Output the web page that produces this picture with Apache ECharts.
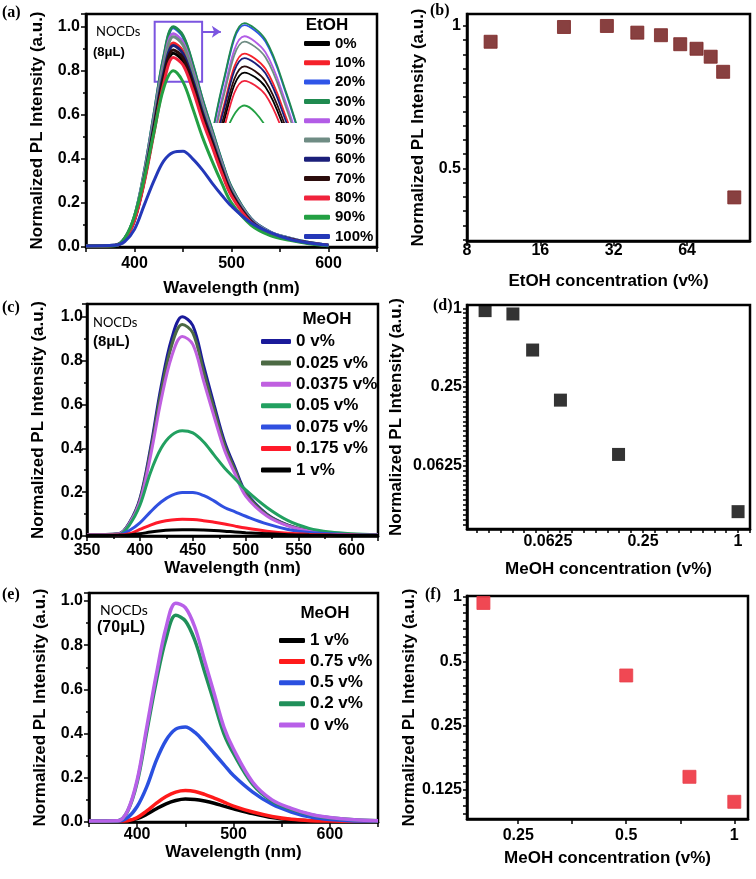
<!DOCTYPE html>
<html><head><meta charset="utf-8">
<script src="https://cdn.jsdelivr.net/npm/echarts@6/dist/echarts.min.js"></script>
<style>html,body{margin:0;padding:0;background:#fff}#c{width:756px;height:879px}</style>
</head><body><div id="c"></div>
<script>
// ---------- data ----------
// (a) EtOH series, 8 uL
const wlA = [350, 380, 390, 400, 410, 420, 430, 440, 450, 460, 470, 480, 490, 500, 520, 540, 560, 580, 600];
const aNames = ['0%','10%','20%','30%','40%','50%','60%','70%','80%','90%','100%'];
const a0   = [0.004, 0.007, 0.035, 0.123, 0.299, 0.528, 0.757, 0.880, 0.845, 0.730, 0.590, 0.466, 0.343, 0.238, 0.114, 0.060, 0.035, 0.018, 0.007];
const a10  = [0.005, 0.007, 0.037, 0.130, 0.315, 0.556, 0.796, 0.926, 0.889, 0.769, 0.620, 0.491, 0.361, 0.250, 0.120, 0.063, 0.037, 0.019, 0.007];
const a20  = [0.005, 0.008, 0.040, 0.139, 0.338, 0.597, 0.856, 0.995, 0.955, 0.826, 0.667, 0.527, 0.388, 0.269, 0.129, 0.068, 0.040, 0.020, 0.008];
const a30  = [0.005, 0.008, 0.040, 0.140, 0.340, 0.600, 0.860, 1.000, 0.960, 0.830, 0.670, 0.530, 0.390, 0.270, 0.130, 0.068, 0.040, 0.020, 0.008];
const a40  = [0.005, 0.008, 0.039, 0.136, 0.329, 0.581, 0.832, 0.968, 0.929, 0.803, 0.649, 0.513, 0.378, 0.261, 0.126, 0.066, 0.039, 0.019, 0.008];
const a50  = [0.005, 0.008, 0.038, 0.134, 0.325, 0.573, 0.821, 0.955, 0.917, 0.793, 0.640, 0.506, 0.372, 0.258, 0.124, 0.065, 0.038, 0.019, 0.008];
const a60  = [0.005, 0.007, 0.037, 0.128, 0.311, 0.549, 0.787, 0.915, 0.878, 0.759, 0.613, 0.485, 0.357, 0.247, 0.119, 0.062, 0.037, 0.018, 0.007];
const a70  = [0.004, 0.007, 0.036, 0.125, 0.304, 0.537, 0.770, 0.895, 0.859, 0.743, 0.600, 0.474, 0.349, 0.242, 0.116, 0.061, 0.036, 0.018, 0.007];
const a80  = [0.004, 0.007, 0.034, 0.120, 0.292, 0.516, 0.740, 0.860, 0.826, 0.714, 0.576, 0.456, 0.335, 0.232, 0.112, 0.058, 0.034, 0.017, 0.007];
const a90  = [0.004, 0.006, 0.040, 0.140, 0.310, 0.520, 0.720, 0.800, 0.750, 0.630, 0.500, 0.390, 0.290, 0.200, 0.100, 0.052, 0.030, 0.015, 0.006];
const a100 = [0.005, 0.008, 0.025, 0.080, 0.190, 0.300, 0.390, 0.430, 0.435, 0.400, 0.350, 0.290, 0.235, 0.185, 0.110, 0.065, 0.035, 0.018, 0.008];

// (b) EtOH concentration vs intensity
const bConc = [10, 20, 30, 40, 50, 60, 70, 80, 90, 100];
const bInt  = [0.926, 0.995, 1.0, 0.968, 0.956, 0.915, 0.895, 0.861, 0.80, 0.434];
const bXLabels = [8, 16, 32, 64];
const bYLabels = [0.5, 1];

// (c) MeOH series, 8 uL
const wlC = [350, 380, 390, 400, 410, 420, 430, 440, 450, 460, 470, 480, 490, 500, 520, 540, 560, 580, 600, 625];
const cNames = ['0 v%','0.025 v%','0.0375 v%','0.05 v%','0.075 v%','0.175 v%','1 v%'];
const c0    = [0.005, 0.010, 0.060, 0.170, 0.400, 0.680, 0.900, 1.000, 0.960, 0.780, 0.600, 0.430, 0.310, 0.200, 0.100, 0.050, 0.025, 0.012, 0.007, 0.004];
const c025  = [0.005, 0.010, 0.058, 0.164, 0.386, 0.656, 0.869, 0.965, 0.926, 0.753, 0.579, 0.415, 0.299, 0.193, 0.097, 0.048, 0.024, 0.012, 0.007, 0.004];
const c0375 = [0.005, 0.009, 0.055, 0.155, 0.364, 0.619, 0.819, 0.910, 0.874, 0.710, 0.546, 0.391, 0.282, 0.182, 0.091, 0.046, 0.023, 0.011, 0.006, 0.004];
const c05   = [0.003, 0.006, 0.050, 0.140, 0.290, 0.400, 0.460, 0.480, 0.470, 0.430, 0.370, 0.310, 0.260, 0.210, 0.130, 0.070, 0.035, 0.018, 0.010, 0.005];
const c075  = [0.003, 0.005, 0.025, 0.060, 0.110, 0.155, 0.185, 0.198, 0.198, 0.185, 0.160, 0.130, 0.110, 0.090, 0.055, 0.030, 0.016, 0.010, 0.006, 0.004];
const c0175 = [0.003, 0.004, 0.010, 0.030, 0.050, 0.065, 0.073, 0.076, 0.075, 0.070, 0.063, 0.055, 0.045, 0.036, 0.022, 0.012, 0.007, 0.005, 0.004, 0.003];
const c1    = [0.002, 0.003, 0.005, 0.010, 0.018, 0.024, 0.027, 0.028, 0.028, 0.027, 0.025, 0.022, 0.018, 0.015, 0.010, 0.006, 0.004, 0.003, 0.002, 0.002];

// (d) MeOH concentration vs intensity (8 uL)
const dConc = [0.025, 0.0375, 0.05, 0.075, 0.175, 1];
const dInt  = [0.96, 0.905, 0.479, 0.198, 0.076, 0.0277];
const dXLabels = [0.0625, 0.25, 1];
const dYLabels = [0.0625, 0.25, 1];

// (e) MeOH series, 70 uL
const wlE = [350, 380, 390, 400, 410, 420, 430, 440, 450, 460, 470, 480, 490, 500, 520, 540, 560, 580, 600, 625, 650];
const eNames = ['1 v%','0.75 v%','0.5 v%','0.2 v%','0 v%'];
const e1   = [0.003, 0.003, 0.005, 0.015, 0.035, 0.060, 0.082, 0.097, 0.104, 0.102, 0.095, 0.085, 0.072, 0.060, 0.038, 0.020, 0.010, 0.005, 0.003, 0.003, 0.003];
const e075 = [0.003, 0.004, 0.006, 0.020, 0.050, 0.085, 0.115, 0.135, 0.142, 0.138, 0.125, 0.108, 0.090, 0.072, 0.045, 0.025, 0.012, 0.006, 0.004, 0.003, 0.003];
const e05  = [0.004, 0.005, 0.020, 0.070, 0.160, 0.280, 0.370, 0.420, 0.430, 0.405, 0.360, 0.310, 0.260, 0.210, 0.135, 0.080, 0.045, 0.022, 0.011, 0.005, 0.004];
const e02  = [0.005, 0.006, 0.048, 0.180, 0.410, 0.640, 0.830, 0.935, 0.910, 0.820, 0.680, 0.540, 0.400, 0.310, 0.170, 0.095, 0.058, 0.033, 0.019, 0.010, 0.006];
const e0   = [0.005, 0.006, 0.050, 0.190, 0.430, 0.670, 0.880, 0.990, 0.970, 0.880, 0.730, 0.580, 0.430, 0.330, 0.180, 0.100, 0.062, 0.035, 0.020, 0.010, 0.006];

// (f) MeOH concentration vs intensity (70 uL)
const fConc = [0.2, 0.5, 0.75, 1];
const fInt  = [0.937, 0.429, 0.144, 0.11];
const fXLabels = [0.25, 0.5, 1];
const fYLabels = [0.125, 0.25, 0.5, 1];

// ---------- styling ----------
const FONT = '"Liberation Sans", Arial, sans-serif';
const SERIF = '"Liberation Serif", "Times New Roman", serif';
const aColors = ['#000000','#f5212a','#2f55e8','#1f8a50','#b25ce6','#6f8c84','#1b1f7a','#2b0c0c','#f0233c','#23a043','#2438b8'];
const cColors = ['#1a1a9a','#4c6a44','#c060e0','#22a060','#3050e0','#ff1a2a','#000000'];
const eColors = ['#000000','#ff1a1a','#2a50e0','#20905a','#b860e8'];
const PURPLE = '#7b55e0';

function pairs(xs, ys) { return xs.map((x, i) => [x, ys[i]]); }
// tick positions (in log2 units) for the tick-only helper axes
function log2Ticks(lo, hi, perOctave) {
  const out = [];
  for (let k = Math.ceil(Math.log2(lo) * perOctave - 1e-9); k <= Math.floor(Math.log2(hi) * perOctave + 1e-9); k++) out.push(k / perOctave);
  return out;
}
const fmtLog = v => String(parseFloat(Number(v).toPrecision(6)));

const tickStyle = {color: '#000', width: 1.5};
function axis(o) {
  const base = {
    nameLocation: 'middle',
    nameTextStyle: {color: '#000', fontFamily: FONT, fontWeight: 'bold', fontSize: 17},
    axisLine: {show: true, onZero: false, lineStyle: {color: '#000', width: 2.5}},
    axisTick: {show: true, length: 5, lineStyle: tickStyle},
    axisLabel: {color: '#000', fontFamily: FONT, fontWeight: 'bold', fontSize: 16},
    splitLine: {show: false}
  };
  const r = Object.assign({}, base, o);
  ['axisLine','axisTick','axisLabel','nameTextStyle'].forEach(k => { if (o[k]) r[k] = Object.assign({}, base[k], o[k]); });
  return r;
}
// helper axis drawing only tick marks, spanning the same range as a log2 axis
function tickAxis(gi, lo, hi, ticks, position, len) {
  return {gridIndex: gi, type: 'value', position, offset: 0, min: Math.log2(lo), max: Math.log2(hi),
    axisLine: {show: false, onZero: false}, splitLine: {show: false}, axisLabel: {show: false},
    axisTick: {show: true, length: len, customValues: ticks, lineStyle: tickStyle}};
}
const minor = {show: true, splitNumber: 2, length: 3, lineStyle: tickStyle};

function gridBox(l, t, w, h) { return {left: l, top: t, width: w, height: h, show: true, borderColor: '#000', borderWidth: 2.5, containLabel: false}; }

const grids = [
  gridBox(86, 14, 291, 233),   // a
  gridBox(467, 14, 283, 227),  // b
  gridBox(87, 304, 291, 232),  // c
  gridBox(467, 305, 283, 224), // d
  gridBox(89, 593, 289, 229),  // e
  gridBox(467, 596, 281, 223), // f
  {left: 213, top: 21, width: 86, height: 101, show: false} // inset
];

const bXr = [8, 116], bYr = [0.351, 1.06];
const dXr = [0.0192, 1.19], dYr = [0.0204, 1.06];
const fXr = [0.18, 1.092], fYr = [0.0914, 1.01];

const xAxes = [
  axis({gridIndex: 0, type: 'value', min: 350, max: 650, interval: 50, name: 'Wavelength (nm)', nameGap: 33,
        axisLabel: {margin: 9, formatter: v => (v % 100 === 0 ? String(v) : '')}}),
  axis({gridIndex: 1, type: 'log', logBase: 2, min: bXr[0], max: bXr[1], name: 'EtOH concentration (v%)', nameGap: 32,
        axisLabel: {margin: 2, customValues: bXLabels, formatter: fmtLog}, axisTick: {show: false}}),
  axis({gridIndex: 2, type: 'value', min: 350, max: 625, interval: 50, name: 'Wavelength (nm)', nameGap: 24,
        axisLabel: {margin: 7, showMaxLabel: false}, minorTick: minor}),
  axis({gridIndex: 3, type: 'log', logBase: 2, min: dXr[0], max: dXr[1], name: 'MeOH concentration (v%)', nameGap: 32,
        axisLabel: {margin: 5, customValues: dXLabels, formatter: fmtLog}, axisTick: {show: false}}),
  axis({gridIndex: 4, type: 'value', min: 350, max: 650, interval: 50, name: 'Wavelength (nm)', nameGap: 22,
        axisLabel: {margin: 5, formatter: v => (v % 100 === 0 ? String(v) : '')}}),
  axis({gridIndex: 5, type: 'log', logBase: 2, min: fXr[0], max: fXr[1], name: 'MeOH concentration (v%)', nameGap: 31,
        axisLabel: {margin: 9, customValues: fXLabels, formatter: fmtLog}, axisTick: {show: false}}),
  {gridIndex: 6, type: 'value', min: 425, max: 466, show: false},
  // tick-only helpers (indices 7..9)
  tickAxis(1, bXr[0], bXr[1], bXLabels.map(Math.log2), 'bottom', 5),
  tickAxis(3, dXr[0], dXr[1], log2Ticks(dXr[0], dXr[1], 4), 'bottom', 4),
  tickAxis(5, fXr[0], fXr[1], log2Ticks(fXr[0], fXr[1], 2), 'bottom', 5)
];

const yName = 'Normalized PL Intensity (a.u.)';
const yAxes = [
  axis({gridIndex: 0, type: 'value', min: 0, max: 1.058, interval: 0.2, name: yName, nameGap: 40,
        axisLabel: {margin: 6, showMaxLabel: false, formatter: v => v.toFixed(1)}, minorTick: minor}),
  axis({gridIndex: 1, type: 'log', logBase: 2, min: bYr[0], max: bYr[1], name: yName, nameGap: 40,
        axisLabel: {margin: 6, customValues: bYLabels, formatter: fmtLog}, axisTick: {show: false}}),
  axis({gridIndex: 2, type: 'value', min: 0, max: 1.058, interval: 0.2, name: yName, nameGap: 40,
        axisLabel: {margin: 4, showMaxLabel: false, formatter: v => v.toFixed(1)}, minorTick: minor}),
  axis({gridIndex: 3, type: 'log', logBase: 2, min: dYr[0], max: dYr[1], name: yName, nameGap: 62,
        axisLabel: {margin: 5, customValues: dYLabels, formatter: fmtLog}, axisTick: {show: false}}),
  axis({gridIndex: 4, type: 'value', min: 0, max: 1.036, interval: 0.2, name: yName, nameGap: 40,
        axisLabel: {margin: 6, showMaxLabel: false, formatter: v => v.toFixed(1)}, minorTick: minor}),
  axis({gridIndex: 5, type: 'log', logBase: 2, min: fYr[0], max: fYr[1], name: yName, nameGap: 48,
        axisLabel: {margin: 5, customValues: fYLabels, formatter: fmtLog}, axisTick: {show: false}}),
  {gridIndex: 6, type: 'value', min: 0.76, max: 1.005, show: false},
  tickAxis(1, bYr[0], bYr[1], log2Ticks(bYr[0], bYr[1], 10), 'left', 4),
  tickAxis(3, dYr[0], dYr[1], log2Ticks(dYr[0], dYr[1], 8), 'left', 4),
  tickAxis(5, fYr[0], fYr[1], log2Ticks(fYr[0], fYr[1], 8), 'left', 4)
];

function line(name, xs, ys, color, idx, width, z) {
  return {type: 'line', name, data: pairs(xs, ys), xAxisIndex: idx, yAxisIndex: idx,
    showSymbol: false, symbol: 'none', smooth: 0.35, clip: true, z: z || 2,
    lineStyle: {color, width}, itemStyle: {color}, emphasis: {disabled: true}};
}

const aData = [a0, a10, a20, a30, a40, a50, a60, a70, a80, a90, a100];
const cData = [c0, c025, c0375, c05, c075, c0175, c1];
const eData = [e1, e075, e05, e02, e0];

const series = [];
// (a) main curves
aData.forEach((d, i) => series.push(line('a:' + aNames[i], wlA, d, aColors[i], 0, 3)));
// purple zoom box + arrow
series[3].markArea = {silent: true, itemStyle: {color: 'rgba(0,0,0,0)', borderColor: PURPLE, borderWidth: 2},
  data: [[{coord: [420.8, 0.75]}, {coord: [469.7, 1.023]}]]};
series[3].markLine = {silent: true, symbol: ['none', 'arrow'], symbolSize: 9, label: {show: false},
  lineStyle: {color: PURPLE, width: 2, type: 'solid'},
  data: [[{coord: [469.7, 0.977]}, {coord: [489, 0.977]}]]};
// (a) inset curves
aData.slice(0, 10).forEach((d, i) => series.push(line('inset:' + aNames[i], wlA, d, aColors[i], 6, 1.8)));
// (b)
series.push({type: 'scatter', name: 'b', xAxisIndex: 1, yAxisIndex: 1, data: pairs(bConc, bInt),
  symbol: 'rect', symbolSize: 13, itemStyle: {color: '#6a1010', borderColor: '#7c2424', borderWidth: 1}});
// (c)
cData.forEach((d, i) => series.push(line('c:' + cNames[i], wlC, d, cColors[i], 2, 3)));
// (d)
series.push({type: 'scatter', name: 'd', xAxisIndex: 3, yAxisIndex: 3, data: pairs(dConc, dInt),
  symbol: 'rect', symbolSize: 13, itemStyle: {color: '#000'}});
// (e)
eData.forEach((d, i) => series.push(line('e:' + eNames[i], wlE, d, eColors[i], 4, 3.5)));
// (f)
series.push({type: 'scatter', name: 'f', xAxisIndex: 5, yAxisIndex: 5, data: pairs(fConc, fInt),
  symbol: 'rect', symbolSize: 13, itemStyle: {color: '#ec1a28', borderColor: '#e8404c', borderWidth: 1}});

const legTextA = {fontFamily: FONT, fontWeight: 'bold', fontSize: 15, color: '#000', lineHeight: 15};
const legText = {fontFamily: FONT, fontWeight: 'bold', fontSize: 17, color: '#000', lineHeight: 17};
const stripFmt = n => n.split(':')[1];
const legends = [
  {data: aNames.map(n => 'a:' + n), orient: 'vertical', left: 304, top: 36, itemWidth: 26, itemHeight: 5, itemGap: 4.3,
   icon: 'roundRect', selectedMode: false, formatter: stripFmt, textStyle: legTextA, padding: 0},
  {data: cNames.map(n => 'c:' + n), orient: 'vertical', left: 261, top: 333, itemWidth: 30, itemHeight: 5, itemGap: 4.4,
   icon: 'roundRect', selectedMode: false, formatter: stripFmt, textStyle: legText, padding: 0},
  {data: eNames.map(n => 'e:' + n), orient: 'vertical', left: 279, top: 632, itemWidth: 26, itemHeight: 5, itemGap: 4.1,
   icon: 'roundRect', selectedMode: false, formatter: stripFmt, textStyle: legText, padding: 0}
];

function txt(x, y, s, font, align) {
  return {type: 'text', x, y, silent: true, z: 100,
    style: {text: s, font, fill: '#000', align: align || 'left', verticalAlign: 'middle'}};
}
const graphic = [
  txt(2, 13, '(a)', 'bold 16px ' + SERIF),
  txt(430, 11, '(b)', 'bold 16px ' + SERIF),
  txt(2, 308, '(c)', 'bold 16px ' + SERIF),
  txt(433, 306, '(d)', 'bold 16px ' + SERIF),
  txt(2, 595, '(e)', 'bold 16px ' + SERIF),
  txt(425, 595, '(f)', 'bold 16px ' + SERIF),
  txt(327, 25, 'EtOH', 'bold 17px ' + FONT, 'center'),
  txt(327, 319, 'MeOH', 'bold 17px ' + FONT, 'center'),
  txt(325, 613, 'MeOH', 'bold 17px ' + FONT, 'center'),
  txt(96, 32, 'NOCDs', '13px Lato, "Open Sans", sans-serif'),
  txt(93, 52, '(8μL)', 'bold 13px ' + FONT),
  txt(93, 323, 'NOCDs', '13px Lato, "Open Sans", sans-serif'),
  txt(93, 342, '(8μL)', 'bold 15px ' + FONT),
  txt(100, 610, 'NOCDs', '14px Lato, "Open Sans", sans-serif'),
  txt(97, 628, '(70μL)', 'bold 16px ' + FONT)
];

const chart = echarts.init(document.getElementById('c'), null, {renderer: 'canvas', width: 756, height: 879});
chart.setOption({animation: false, backgroundColor: '#fff', grid: grids, xAxis: xAxes, yAxis: yAxes,
  legend: legends, series, graphic});
</script>
</body></html>
